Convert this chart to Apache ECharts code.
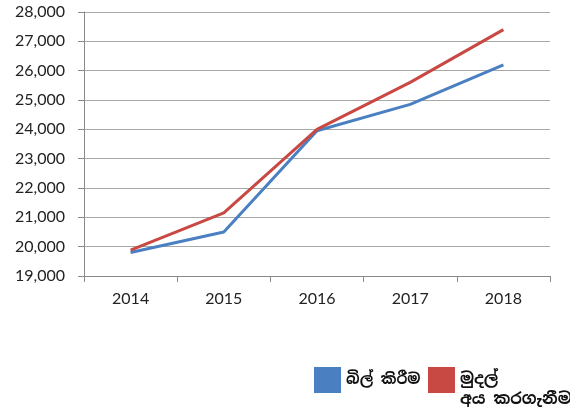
<!DOCTYPE html>
<html><head><meta charset="utf-8">
<script src="https://cdn.jsdelivr.net/npm/echarts@6/dist/echarts.min.js"></script>
<style>html,body{margin:0;padding:0;background:#fff}#c{width:570px;height:410px}</style>
</head><body><div id="c"></div>
<script>
const years = ['2014','2015','2016','2017','2018'];
const billing = [19800, 20500, 23950, 24850, 26200];
const collection = [19880, 21150, 24000, 25600, 27400];
const seriesNames = ['බිල් කිරීම', 'මුදල්\nඅය කරගැනීම'];
const yMin = 19000, yMax = 28000, yStep = 1000;

const chart = echarts.init(document.getElementById('c'));
const font = 'Lato, "Open Sans", sans-serif';
const legendText = {fontSize: 15, color: '#111', fontWeight: 'bold', lineHeight: 20,
  fontFamily: '"Noto Sans Sinhala", "Noto Sans", sans-serif'};
chart.setOption({
  animation: false,
  grid: {left: 84, right: 20, top: 12, bottom: 134},
  legend: [
    {left: 314, top: 367, width: 120, itemWidth: 27, itemHeight: 26, icon: 'rect', padding: 0,
     textStyle: legendText, data: [seriesNames[0]]},
    {left: 428, top: 350, width: 150, itemWidth: 27, itemHeight: 26, icon: 'rect', padding: 0,
     formatter: name => '\n' + name,
     textStyle: Object.assign({}, legendText, {fontSize: 16}), data: [seriesNames[1]]}
  ],
  xAxis: {
    type: 'category', data: years, boundaryGap: true,
    axisLine: {lineStyle: {color: '#8a8a8a', width: 1}},
    axisTick: {show: true, length: 6, lineStyle: {color: '#8a8a8a'}},
    axisLabel: {fontSize: 16, color: '#222', margin: 15, fontFamily: font}
  },
  yAxis: {
    type: 'value', min: yMin, max: yMax, interval: yStep,
    axisLine: {show: true, lineStyle: {color: '#8a8a8a', width: 1}},
    axisTick: {show: true, length: 6, lineStyle: {color: '#8a8a8a'}},
    splitLine: {lineStyle: {color: '#a8a8a8', width: 1}},
    axisLabel: {fontSize: 16, color: '#222', margin: 19, fontFamily: font,
      formatter: v => v.toLocaleString('en-US')}
  },
  series: [
    {name: seriesNames[0], type: 'line', data: billing, symbol: 'none',
     lineStyle: {color: '#4a80c2', width: 3}, itemStyle: {color: '#4a80c2'}},
    {name: seriesNames[1], type: 'line', data: collection, symbol: 'none',
     lineStyle: {color: '#c84843', width: 3}, itemStyle: {color: '#c84843'}}
  ]
});
</script></body></html>
